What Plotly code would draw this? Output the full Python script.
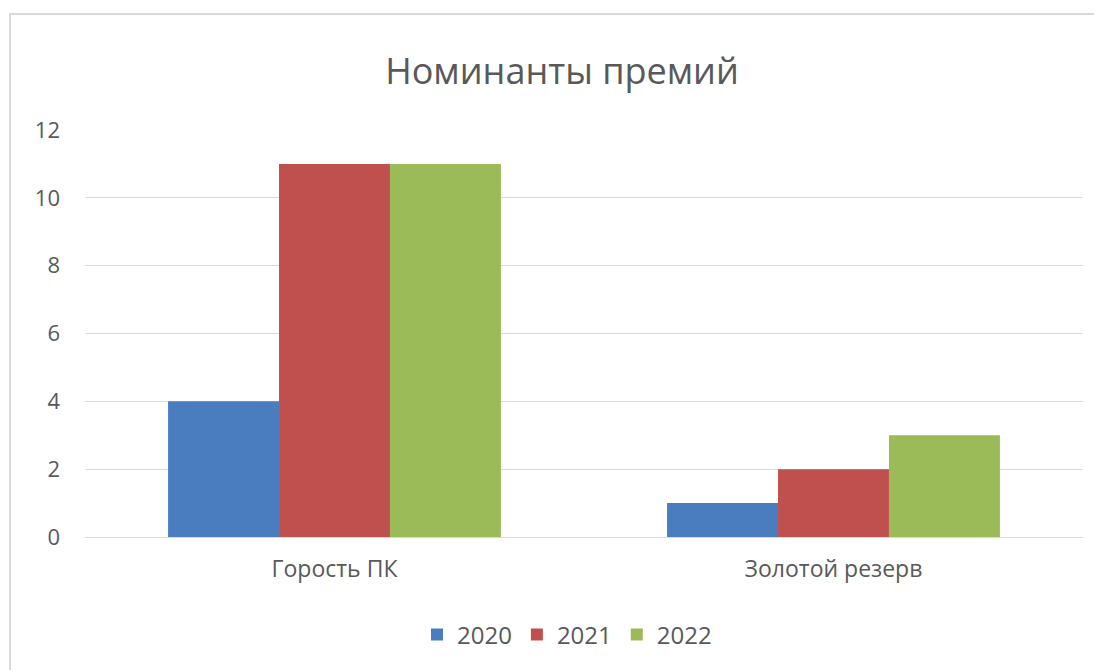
import plotly.graph_objects as go

categories = ["Горость ПК", "Золотой резерв"]
years = ["2020", "2021", "2022"]
values_2020 = [4, 1]
values_2021 = [11, 2]
values_2022 = [11, 3]
colors = ["#4A7CC0", "#C0504D", "#9BBB59"]
y_ticks = [0, 2, 4, 6, 8, 10, 12]

series = [values_2020, values_2021, values_2022]

fig = go.Figure()
for name, vals, col in zip(years, series, colors):
    fig.add_trace(go.Bar(name=name, x=categories, y=vals, marker=dict(color=col, line=dict(width=0))))

OFF = 8  # page offset of the figure in the browser window
W, H = 1102, 670
L = 85 - OFF
R = W - (1083 - OFF)
T = 130 - OFF
B = H - (537 - OFF)
pw, ph = W - L - R, H - T - B

def px(x):
    return (x - OFF - L) / pw

def py(y):
    return (H - B - (y - OFF)) / ph

TXT = "#595959"
fig.update_layout(
    width=W, height=H,
    margin=dict(l=L, r=R, t=T, b=B),
    paper_bgcolor="white", plot_bgcolor="white",
    barmode="group", bargap=0.333, bargroupgap=0,
    font=dict(family="Open Sans", color=TXT),
    title=dict(text="Номинанты премий", x=px(562), xref="paper", xanchor="center",
               y=1 - (71 - OFF) / H, yanchor="middle", font=dict(size=36, color=TXT)),
    xaxis=dict(showgrid=False, showline=False, ticks="", tickfont=dict(size=23, color=TXT),
               ticklabelstandoff=16),
    yaxis=dict(range=[0, 12], tickvals=y_ticks, showgrid=True, gridcolor="#D9D9D9", gridwidth=1,
               zeroline=True, zerolinecolor="#D9D9D9", zerolinewidth=1,
               showline=False, ticks="", tickfont=dict(size=22, color=TXT), ticklabelstandoff=24),
    legend=dict(orientation="h", x=px(567), xanchor="center", y=py(635), yanchor="middle",
                font=dict(size=24, color=TXT), itemwidth=30, traceorder="normal"),
    shapes=[dict(type="rect", xref="paper", yref="paper", x0=px(10), x1=px(1200), y0=py(760), y1=py(14),
                 line=dict(color="#D9D9D9", width=2), fillcolor="rgba(0,0,0,0)", layer="below")],
)

fig.write_html("out.html")
